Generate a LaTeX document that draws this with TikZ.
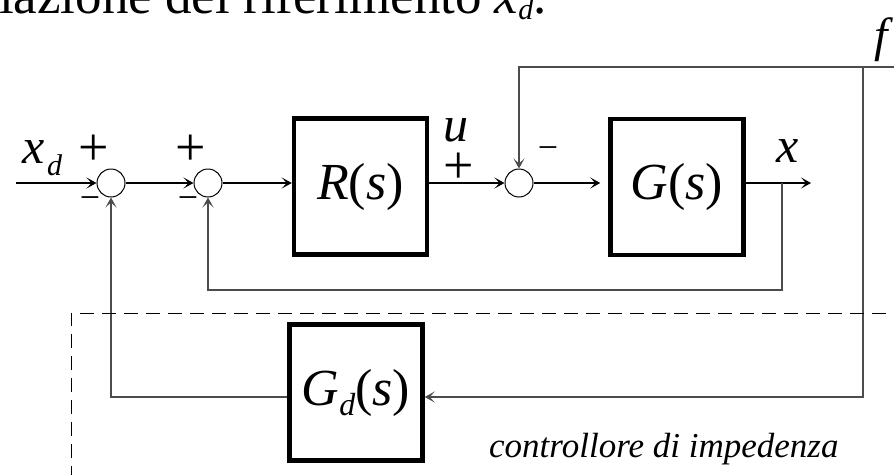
\documentclass[tikz,border=0pt]{standalone}
\usepackage{fontspec}
\setmainfont{Liberation Serif}
\usetikzlibrary{arrows.meta,calc}
\tikzset{
  arr/.style={-{Stealth[length=10pt,width=11pt,inset=5pt]}},
  mainline/.style={line width=1.4pt,black},
  fbline/.style={line width=1.1pt,black!70},
  sumnode/.style={circle,draw,line width=1pt,minimum size=28pt,inner sep=0pt},
  blk/.style={draw,line width=4.5pt,minimum width=133pt,minimum height=136pt,inner sep=0pt,font=\fontsize{52}{60}\selectfont},
  lbl/.style={inner sep=0pt,anchor=base west,font=\fontsize{50}{56}\selectfont\itshape},
  sgn/.style={inner sep=0pt,font=\fontsize{54}{60}\selectfont},
  msgn/.style={inner sep=0pt,font=\fontsize{36}{40}\selectfont},
  dashbox/.style={line width=1pt,dash pattern=on 14pt off 8pt}
}
\begin{document}
\begin{tikzpicture}[x=1pt,y=-1pt]
\useasboundingbox (0,0) rectangle (894,474);
\clip (0,0) rectangle (894,474);

% top cut-off text line
\node[inner sep=0pt,anchor=base east,font=\fontsize{53}{60}\selectfont] (toptext) at (547,13)
  {variazione del riferimento \textit{x}\raisebox{-0.13em}{\fontsize{30}{34}\selectfont\textit{d}}.};

% summing junctions
\node[sumnode] (c1) at (111,183) {};
\node[sumnode] (c2) at (208,183) {};
\node[sumnode] (c3) at (519,183) {};

% blocks
\node[blk] (R) at (360.5,186.5) {\textit{R}(\textit{s})};
\node[blk] (G) at (677,187) {\textit{G}(\textit{s})};
\node[blk] (Gd) at (356,392.5) {\textit{G}\raisebox{-0.2em}{\fontsize{32}{36}\selectfont\textit{d}}(\textit{s})};

% coordinates
\coordinate (in) at (16,183);
\coordinate (out) at (811,183);
\coordinate (br) at (782,183);
\coordinate (b2) at (782,290);
\coordinate (fin) at (900,67);
\coordinate (k) at (863,67);
\coordinate (fb) at (863,397);

% main path
\draw[mainline,arr] (in) -- (c1);
\draw[mainline,arr] (c1) -- (c2);
\draw[mainline,arr] (c2) -- (R.west |- c2);
\draw[mainline,arr] (R.east |- c3) -- (c3);
\draw[mainline,arr,shorten >=8pt] (c3) -- (G.west |- c3);
\draw[mainline,arr] (G.east |- br) -- (out);

% feedback paths
\draw[fbline,arr] (br) -- (b2) -| (c2.south);
\draw[fbline,arr] (fin) -| (c3.north);
\draw[fbline,arr] (k) -- (fb) -- (Gd.east |- fb);
\draw[fbline,arr] (Gd.west |- fb) -| (c1.south);

% dashed controller boundary
\draw[dashbox] (71,480) -- (71,313) -- (900,313);

% labels
\node[lbl] (lxd) at (22,163) {x};
\node[lbl,font=\fontsize{30}{34}\selectfont\itshape] (lxdd) at (47,175) {d};
\node[sgn] (p1) at (94,150) {+};
\node[sgn] (p2) at (191,150) {+};
\node[msgn] (m1) at (90,203) {−};
\node[msgn] (m2) at (188,203) {−};
\node[lbl] (lu) at (443,141) {u};
\node[sgn] (p3) at (459,168) {+};
\node[msgn] (m3) at (548,153) {−};
\node[lbl] (lx) at (776,162) {x};
\node[lbl,font=\fontsize{48}{52}\selectfont\itshape] (lf) at (874,51) {f};
\node[inner sep=0pt,anchor=base west,font=\fontsize{35}{40}\selectfont\itshape] (ctrl) at (489,457) {controllore di impedenza};
\end{tikzpicture}
\end{document}
